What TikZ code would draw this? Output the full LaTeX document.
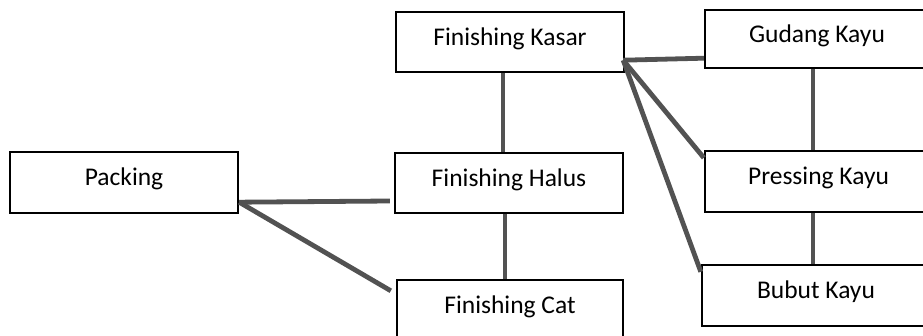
\documentclass[tikz,border=0pt]{standalone}
\usepackage{fontspec}
\setmainfont{Carlito}
\usetikzlibrary{calc}
\begin{document}
\begin{tikzpicture}[x=1pt,y=-1pt,
  box/.style={draw=black,line width=2.4pt,fill=white,rectangle,inner sep=0pt,
    font=\fontsize{25.5}{28}\selectfont,text height=10pt,text depth=3pt},
  link/.style={draw=black!68,line width=4.8pt}]
\clip (0,0) rectangle (923,336);
\fill[white] (0,0) rectangle (923,336);
\node[box,minimum width=228pt,minimum height=60pt] (kasar) at (510,42) {Finishing Kasar};
\node[box,minimum width=224pt,minimum height=58pt] (gudang) at (817,39) {Gudang Kayu};
\node[box,minimum width=228pt,minimum height=61pt] (packing) at (124,182.5) {Packing};
\node[box,minimum width=228pt,minimum height=60pt] (halus) at (509,183) {Finishing Halus};
\node[box,minimum width=226pt,minimum height=60pt] (cat) at (510,310) {Finishing Cat};
\node[box,minimum width=227pt,minimum height=61pt] (pressing) at (818.5,181.5) {Pressing Kayu};
\node[box,minimum width=228pt,minimum height=61pt] (bubut) at (816,295.5) {Bubut Kayu};
\coordinate (kj) at ($(kasar.south east)+(-2,-13)$);
\coordinate (pj) at ($(packing.south east)+(0,-12)$);
\draw[link] (kj) -- ($(gudang.south west)+(0,-11)$);
\draw[link] (kj) -- ($(pressing.north west)+(0,8)$);
\draw[link] (kj) -- ($(bubut.north west)+(0,8)$);
\draw[link] ($(kasar.south)+(-7,0)$) -- ($(halus.north)+(-6,0)$);
\draw[link] ($(gudang.south)+(-4,0)$) -- ($(pressing.north)+(-5.5,0)$);
\draw[link] ($(pressing.south)+(-5.5,0)$) -- ($(bubut.north)+(-3,0)$);
\draw[link] ($(halus.south)+(-4,0)$) -- ($(cat.north)+(-5,0)$);
\draw[link] (pj) -- ($(halus.west)+(-4,18)$);
\draw[link] (pj) -- ($(cat.north west)+(-5,12)$);
\end{tikzpicture}
\end{document}
